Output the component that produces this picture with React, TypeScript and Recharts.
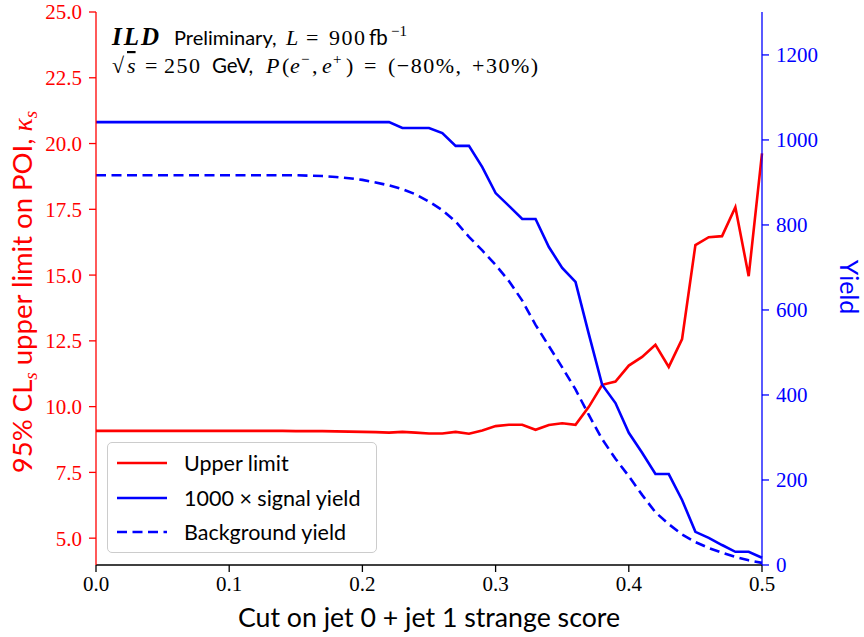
import { ComposedChart, Line, XAxis, YAxis, Legend } from 'recharts';

// cut values on the summed jet 0 + jet 1 strange score
const cuts = [
  0.0, 0.01, 0.02, 0.03, 0.04, 0.05, 0.06, 0.07, 0.08, 0.09,
  0.1, 0.11, 0.12, 0.13, 0.14, 0.15, 0.16, 0.17, 0.18, 0.19,
  0.2, 0.21, 0.22, 0.23, 0.24, 0.25, 0.26, 0.27, 0.28, 0.29,
  0.3, 0.31, 0.32, 0.33, 0.34, 0.35, 0.36, 0.37, 0.38, 0.39,
  0.4, 0.41, 0.42, 0.43, 0.44, 0.45, 0.46, 0.47, 0.48, 0.49, 0.5,
];

// 95% CLs upper limit on kappa_s (left axis)
const upperLimit = [
  9.08, 9.08, 9.08, 9.08, 9.08, 9.08, 9.08, 9.08, 9.08, 9.08,
  9.08, 9.08, 9.08, 9.08, 9.08, 9.07, 9.07, 9.07, 9.06, 9.05,
  9.04, 9.03, 9.01, 9.04, 9.01, 8.98, 8.98, 9.04, 8.97, 9.09,
  9.26, 9.31, 9.31, 9.12, 9.3, 9.37, 9.31, 9.99, 10.83, 10.95,
  11.56, 11.89, 12.35, 11.51, 12.57, 16.14, 16.44, 16.48, 17.58, 14.96, 19.63,
];

// 1000 x signal yield (right axis)
const signalYield = [
  1042, 1042, 1042, 1042, 1042, 1042, 1042, 1042, 1042, 1042,
  1042, 1042, 1042, 1042, 1042, 1042, 1042, 1042, 1042, 1042,
  1042, 1042, 1042, 1028, 1028, 1028, 1016, 986, 986, 936,
  875, 845, 814, 814, 748, 699, 666, 543, 424, 381,
  311, 264, 214, 214, 153, 78, 64, 47, 31, 31, 17,
];

// background yield (right axis)
const backgroundYield = [
  917, 917, 917, 917, 917, 917, 917, 917, 917, 917,
  917, 917, 917, 917, 917, 917, 916, 915, 913, 910,
  906, 900, 893, 884, 872, 855, 835, 808, 772, 740,
  706, 668, 622, 565, 515, 465, 413, 353, 296, 250,
  209, 165, 124, 96, 72, 54, 40, 29, 19, 11, 5,
];

const xTicks = [0, 0.1, 0.2, 0.3, 0.4, 0.5];
const limitTicks = [5, 7.5, 10, 12.5, 15, 17.5, 20, 22.5, 25];
const yieldTicks = [0, 200, 400, 600, 800, 1000, 1200];

const legendItems = [
  { label: 'Upper limit', color: '#ff0000', dash: undefined },
  { label: '1000 \u00d7 signal yield', color: '#0000ff', dash: undefined },
  { label: 'Background yield', color: '#0000ff', dash: '10 5.5' },
];

const rows = cuts.map((cut, i) => ({
  cut,
  limit: upperLimit[i],
  signal: signalYield[i],
  background: backgroundYield[i],
}));

const SANS = 'Lato, "Open Sans", sans-serif';
const SERIF = '"Liberation Serif", "DejaVu Serif", serif';
const RED = '#ff0000';
const BLUE = '#0000ff';

function LegendBox() {
  return (
    <div style={{
      width: 270, height: 111, border: '1px solid #cccccc', borderRadius: 5,
      background: 'rgba(255,255,255,0.85)', boxSizing: 'border-box', paddingTop: 3,
    }}>
      {legendItems.map((item) => (
        <div key={item.label} style={{ display: 'flex', alignItems: 'center', height: 34.5 }}>
          <svg width={76} height={10} style={{ flex: 'none' }}>
            <line x1={9} x2={59} y1={5} y2={5} stroke={item.color} strokeWidth={2.6} strokeDasharray={item.dash} />
          </svg>
          <span style={{ fontFamily: SANS, fontSize: 21.5, color: '#000', whiteSpace: 'nowrap' }}>{item.label}</span>
        </div>
      ))}
    </div>
  );
}

export default function App() {
  return (
    <div style={{ position: 'absolute', left: 0, top: 0, width: 864, height: 637, background: '#fff' }}>
      <ComposedChart width={864} height={637} data={rows} margin={{ top: 12, right: 0, bottom: 0, left: 0 }}>
        <XAxis
          xAxisId="top" orientation="top" dataKey="cut" type="number" domain={[0, 0.5]}
          ticks={xTicks} tick={false} tickLine={false} height={0} stroke="#000" strokeWidth={1.3}
        />
        <XAxis
          dataKey="cut" type="number" domain={[0, 0.5]} ticks={xTicks} height={72}
          tickFormatter={(v: number) => v.toFixed(1)} tickSize={7} tickMargin={4}
          stroke="#000" strokeWidth={1.3} interval={0}
          tick={{ fill: '#000', fontFamily: SERIF, fontSize: 21 }}
        />
        <YAxis
          yAxisId="left" orientation="left" domain={[3.98, 25]} ticks={limitTicks} width={96}
          tickFormatter={(v: number) => v.toFixed(1)} tickSize={7} tickMargin={7} interval={0}
          stroke={RED} strokeWidth={1.3} allowDataOverflow
          tick={{ fill: RED, fontFamily: SERIF, fontSize: 21 }}
        />
        <YAxis
          yAxisId="right" orientation="right" domain={[0, 1301]} ticks={yieldTicks} width={102}
          tickSize={7} tickMargin={7} interval={0} stroke={BLUE} strokeWidth={1.3} allowDataOverflow
          tick={{ fill: BLUE, fontFamily: SERIF, fontSize: 21 }}
        />
        <Legend
          layout="vertical" align="center" verticalAlign="middle"
          wrapperStyle={{ left: 107, top: 442, width: 'auto', height: 'auto' }}
          content={() => <LegendBox />}
        />
        <Line yAxisId="left" dataKey="limit" stroke={RED} strokeWidth={2.6} dot={false} isAnimationActive={false} type="linear" />
        <Line yAxisId="right" dataKey="signal" stroke={BLUE} strokeWidth={2.6} dot={false} isAnimationActive={false} type="linear" />
        <Line yAxisId="right" dataKey="background" stroke={BLUE} strokeWidth={2.6} strokeDasharray="10 5.5" dot={false} isAnimationActive={false} type="linear" />
      </ComposedChart>

      {/* axis titles and the ILD annotation */}
      <svg width={864} height={637} style={{ position: 'absolute', left: 0, top: 0, pointerEvents: 'none' }}>
        <text x={429} y={627} textAnchor="middle" fontFamily={SANS} fontSize={26.7} fill="#000">
          Cut on jet 0 + jet 1 strange score
        </text>
        <text transform="translate(32,292) rotate(-90)" textAnchor="middle" fontFamily={SANS} fontSize={27.5} fill={RED}>
          95% CL<tspan fontFamily={SERIF} fontStyle="italic" fontSize={19} dy={5}>s</tspan>
          <tspan dy={-5}> upper limit on POI, </tspan>
          <tspan fontFamily={SERIF} fontStyle="italic">{'\u03ba'}</tspan>
          <tspan fontFamily={SERIF} fontStyle="italic" fontSize={19} dy={5}>s</tspan>
        </text>
        <text transform="translate(840,287) rotate(90)" textAnchor="middle" fontFamily={SANS} fontSize={25} fill={BLUE}>
          Yield
        </text>

        <text y={45} fontSize={22} fill="#000" fontFamily={SERIF}>
          <tspan x={112} fontStyle="italic" fontWeight="bold" fontSize={25} letterSpacing={2}>ILD</tspan>
          <tspan x={174} fontFamily={SANS} fontSize={20}>Preliminary,</tspan>
          <tspan x={286} fontStyle="italic">L</tspan>
          <tspan x={306}>=</tspan>
          <tspan x={329} letterSpacing={1.5}>900</tspan>
          <tspan x={369} fontFamily={SANS} fontSize={20.5}>fb</tspan>
          <tspan x={391} fontSize={15} dy={-9}>{'\u22121'}</tspan>
        </text>
        <text y={73} fontSize={22} fill="#000" fontFamily={SERIF}>
          <tspan x={112}>{'\u221a'}</tspan>
          <tspan x={127} fontStyle="italic" textDecoration="overline">s</tspan>
          <tspan x={145}>=</tspan>
          <tspan x={164} letterSpacing={1.5}>250</tspan>
          <tspan x={212} fontFamily={SANS} fontSize={20.5}>GeV,</tspan>
          <tspan x={266} fontStyle="italic">P</tspan>
          <tspan x={282}>(</tspan>
          <tspan x={290} fontStyle="italic">e</tspan>
          <tspan x={301} fontSize={15} dy={-9}>{'\u2212'}</tspan>
          <tspan x={312} dy={9}>,</tspan>
          <tspan x={322} fontStyle="italic">e</tspan>
          <tspan x={333} fontSize={15} dy={-9}>+</tspan>
          <tspan x={346} dy={9}>)</tspan>
          <tspan x={364}>=</tspan>
          <tspan x={388} letterSpacing={1.5}>({'\u2212'}80%,</tspan>
          <tspan x={472} letterSpacing={1.5}>+30%)</tspan>
        </text>
      </svg>
    </div>
  );
}
